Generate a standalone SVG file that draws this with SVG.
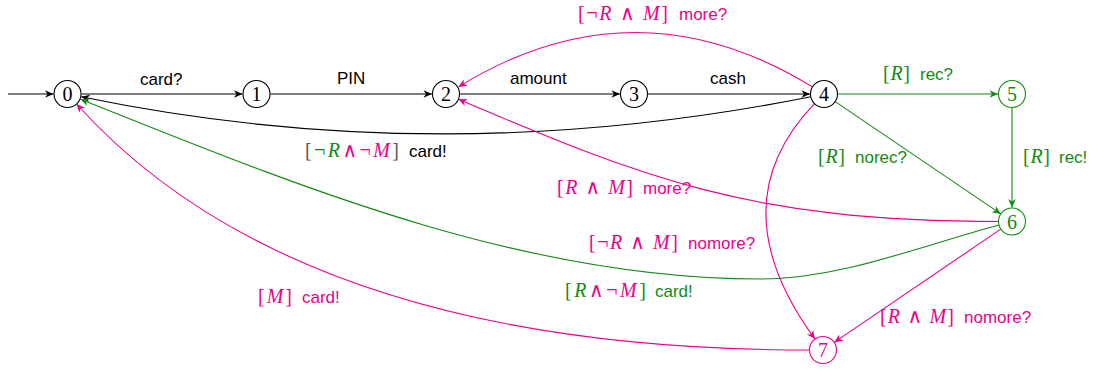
<svg xmlns="http://www.w3.org/2000/svg" width="1096" height="371" viewBox="0 0 1096 371">
<style>
.e{fill:none;stroke-width:1.1}
.k{stroke:#000}
.g{stroke:#138a13}
.m{stroke:#ec008c}
.n circle{fill:#fff;stroke-width:1.1}
.d{font-family:"Liberation Serif","DejaVu Serif",serif;font-size:20px;text-anchor:middle}
.t{font-family:"Liberation Sans",Arial,sans-serif;font-size:17px}
.mt{font-family:"Liberation Serif","DejaVu Serif",serif;font-size:20px}
.i{font-style:italic}
.fk{fill:#000}
.fg{fill:#138a13}
.fm{fill:#ec008c}
.fy{fill:#555}
</style>
<defs>
<marker id="ak" viewBox="-10 -5 11 10" refX="0" refY="0" markerWidth="11" markerHeight="10" markerUnits="userSpaceOnUse" orient="auto"><path d="M0,0 L-8.5,-3.8 L-6,0 L-8.5,3.8 Z" fill="#000"/></marker>
<marker id="ag" viewBox="-10 -5 11 10" refX="0" refY="0" markerWidth="11" markerHeight="10" markerUnits="userSpaceOnUse" orient="auto"><path d="M0,0 L-8.5,-3.8 L-6,0 L-8.5,3.8 Z" fill="#138a13"/></marker>
<marker id="am" viewBox="-10 -5 11 10" refX="0" refY="0" markerWidth="11" markerHeight="10" markerUnits="userSpaceOnUse" orient="auto"><path d="M0,0 L-8.5,-3.8 L-6,0 L-8.5,3.8 Z" fill="#ec008c"/></marker>
</defs>
<g id="connectors">
<path class="e k" d="M8,94 L53.5,94" marker-end="url(#ak)"/>
<path class="e k" d="M81.5,94 L242.5,94" marker-end="url(#ak)"/>
<path class="e k" d="M270.5,94 L432,94" marker-end="url(#ak)"/>
<path class="e k" d="M460,94 L620,94" marker-end="url(#ak)"/>
<path class="e k" d="M648,94 L810,94" marker-end="url(#ak)"/>
<path class="e k" d="M810.8,96.7 Q440,171 81.2,96.8" marker-end="url(#ak)"/>
<path class="e m" d="M812.5,86.9 Q635,-22 458.5,86.9" marker-end="url(#am)"/>
<path class="e g" d="M838,94 L998,94" marker-end="url(#ag)"/>
<path class="e g" d="M1012,108 L1012,207.5" marker-end="url(#ag)"/>
<path class="e g" d="M835.2,101.6 L1000.8,213.9" marker-end="url(#ag)"/>
<path class="e m" d="M998.5,221.5 C748.5,221.5 642.4,177.3 458.4,99.3" marker-end="url(#am)"/>
<path class="e g" d="M999,225 C919,246.5 840,279 760,279 C520,279 294,184.3 80.5,99.2" marker-end="url(#ag)"/>
<path class="e m" d="M814.6,103.7 Q717,205 815,339.1" marker-end="url(#am)"/>
<path class="e m" d="M1000.8,229.1 L834.2,342.4" marker-end="url(#am)"/>
<path class="e m" d="M809.5,350 Q298,350 76.5,104" marker-end="url(#am)"/>
<text class="t fk" x="140" y="85">card?</text>
<text class="t fk" x="337" y="83.5">PIN</text>
<text class="t fk" x="510" y="83.5">amount</text>
<text class="t fk" x="710" y="83.5">cash</text>
<text class="mt fm" x="578" y="20" textLength="90" lengthAdjust="spacing">[¬<tspan class="i">R</tspan> ∧ <tspan class="i">M</tspan>]</text>
<text class="t fm" x="679" y="20">more?</text>
<text class="mt fg" x="883" y="80" textLength="27" lengthAdjust="spacing">[<tspan class="i">R</tspan>]</text>
<text class="t fg" x="920" y="80">rec?</text>
<text class="mt fg" x="818" y="163" textLength="27" lengthAdjust="spacing">[<tspan class="i">R</tspan>]</text>
<text class="t fg" x="855" y="163">norec?</text>
<text class="mt fg" x="1023" y="163" textLength="27" lengthAdjust="spacing">[<tspan class="i">R</tspan>]</text>
<text class="t fg" x="1059" y="163">rec!</text>
<text class="mt fy" x="305" y="157" textLength="94" lengthAdjust="spacing">[<tspan class="fg">¬</tspan><tspan class="fg i">R</tspan><tspan class="fm">∧¬</tspan><tspan class="fm i">M</tspan>]</text>
<text class="t fk" x="409" y="157">card!</text>
<text class="mt fm" x="557" y="194" textLength="76" lengthAdjust="spacing">[<tspan class="i">R</tspan> ∧ <tspan class="i">M</tspan>]</text>
<text class="t fm" x="643" y="194">more?</text>
<text class="mt fm" x="589" y="249" textLength="89" lengthAdjust="spacing">[¬<tspan class="i">R</tspan> ∧ <tspan class="i">M</tspan>]</text>
<text class="t fm" x="688" y="249">nomore?</text>
<text class="mt fg" x="565" y="297" textLength="81" lengthAdjust="spacing">[<tspan class="i">R</tspan><tspan class="fm">∧¬</tspan><tspan class="fm i">M</tspan>]</text>
<text class="t fg" x="655" y="297">card!</text>
<text class="mt fm" x="258" y="303" textLength="34" lengthAdjust="spacing">[<tspan class="i">M</tspan>]</text>
<text class="t fm" x="302" y="303">card!</text>
<text class="mt fm" x="880" y="323" textLength="74" lengthAdjust="spacing">[<tspan class="i">R</tspan> ∧ <tspan class="i">M</tspan>]</text>
<text class="t fm" x="964" y="323">nomore?</text>
</g>
<g id="node0" class="n"><circle cx="67.5" cy="94" r="13.5" stroke="#000"/><text class="d fk" x="67.5" y="101">0</text></g>
<g id="node1" class="n"><circle cx="256.5" cy="94" r="13.5" stroke="#000"/><text class="d fk" x="256.5" y="101">1</text></g>
<g id="node2" class="n"><circle cx="446" cy="94" r="13.5" stroke="#000"/><text class="d fk" x="446" y="101">2</text></g>
<g id="node3" class="n"><circle cx="634" cy="94" r="13.5" stroke="#000"/><text class="d fk" x="634" y="101">3</text></g>
<g id="node4" class="n"><circle cx="824" cy="94" r="13.5" stroke="#000"/><text class="d fk" x="824" y="101">4</text></g>
<g id="node5" class="n"><circle cx="1012" cy="94" r="13.5" stroke="#138a13"/><text class="d fg" x="1012" y="101">5</text></g>
<g id="node6" class="n"><circle cx="1012" cy="221.5" r="13.5" stroke="#138a13"/><text class="d fg" x="1012" y="228.5">6</text></g>
<g id="node7" class="n"><circle cx="823" cy="350" r="13.5" stroke="#ec008c"/><text class="d fm" x="823" y="357">7</text></g>
</svg>
